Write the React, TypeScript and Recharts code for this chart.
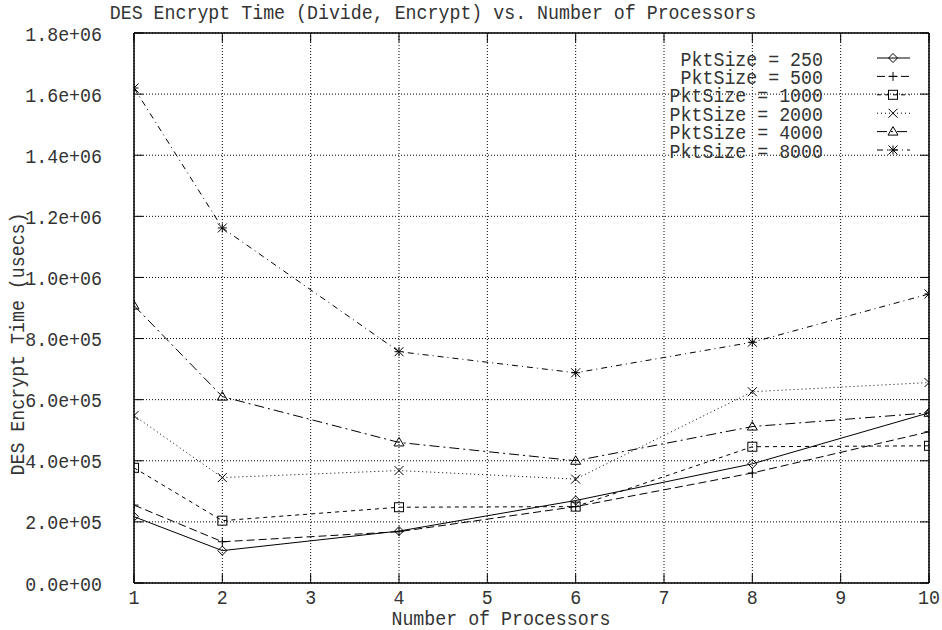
import React from 'react';
import { LineChart, Line, XAxis, YAxis, CartesianGrid, ReferenceLine, Customized } from 'recharts';

const processors = [1, 2, 4, 6, 8, 10];
const pkt250 = [217000, 106000, 170000, 270000, 390000, 557000];
const pkt500 = [255000, 135000, 168000, 250000, 360000, 495000];
const pkt1000 = [377000, 204000, 248000, 250000, 446000, 449000];
const pkt2000 = [548000, 345000, 368000, 340000, 626000, 656000];
const pkt4000 = [908000, 610000, 460000, 400000, 512000, 557000];
const pkt8000 = [1620000, 1162000, 757000, 688000, 788000, 946000];

const xTicks = [1, 2, 3, 4, 5, 6, 7, 8, 9, 10];
const yTicks = [0, 200000, 400000, 600000, 800000, 1000000, 1200000, 1400000, 1600000, 1800000];
const seriesNames = ['PktSize = 250', 'PktSize = 500', 'PktSize = 1000', 'PktSize = 2000', 'PktSize = 4000', 'PktSize = 8000'];
const titleText = 'DES Encrypt Time (Divide, Encrypt) vs. Number of Processors';
const xLabel = 'Number of Processors';
const yLabel = 'DES Encrypt Time (usecs)';

const data = processors.map((p, i) => ({
  p,
  s250: pkt250[i],
  s500: pkt500[i],
  s1000: pkt1000[i],
  s2000: pkt2000[i],
  s4000: pkt4000[i],
  s8000: pkt8000[i],
}));

const W = 942;
const H = 630;
const PLOT_LEFT = 134;
const PLOT_RIGHT = 929;
const PLOT_TOP = 33;
const PLOT_BOTTOM = 583;
const TICK = 9;
const FONT = '"Liberation Mono", "DejaVu Sans Mono", monospace';
const TEXT_COLOR = '#333';
const FS = 21;
const SX = 0.87;

const SText = ({ x, y, anchor, children, rotate, dy, fs }: { x: number; y: number; anchor: 'start' | 'middle' | 'end'; children: React.ReactNode; rotate?: number; dy?: string; fs?: number }) => (
  <text
    x={0}
    y={0}
    dy={dy}
    transform={`translate(${x}, ${y})${rotate ? ` rotate(${rotate})` : ''} scale(${SX}, 1)`}
    textAnchor={anchor}
    fontFamily={FONT}
    fontSize={fs ?? FS}
    fill={TEXT_COLOR}
  >
    {children}
  </text>
);

const fmt = (v: number) => {
  if (v === 0) return '0.0e+00';
  const e = Math.floor(Math.log10(v));
  const m = v / Math.pow(10, e);
  return `${m.toFixed(1)}e+${String(e).padStart(2, '0')}`;
};

type MarkerKind = 'diamond' | 'plus' | 'square' | 'cross' | 'triangle' | 'star';

const Marker = ({ cx, cy, kind }: { cx: number; cy: number; kind: MarkerKind }) => {
  const r = 4.5;
  const st = { stroke: '#000', strokeWidth: 1, fill: 'none' };
  switch (kind) {
    case 'diamond':
      return <polygon points={`${cx},${cy - r} ${cx + r},${cy} ${cx},${cy + r} ${cx - r},${cy}`} {...st} />;
    case 'plus':
      return (
        <g {...st}>
          <line x1={cx - r} y1={cy} x2={cx + r} y2={cy} />
          <line x1={cx} y1={cy - r} x2={cx} y2={cy + r} />
        </g>
      );
    case 'square':
      return <rect x={cx - r} y={cy - r} width={2 * r} height={2 * r} {...st} />;
    case 'cross':
      return (
        <g {...st}>
          <line x1={cx - r} y1={cy - r} x2={cx + r} y2={cy + r} />
          <line x1={cx - r} y1={cy + r} x2={cx + r} y2={cy - r} />
        </g>
      );
    case 'triangle':
      return <polygon points={`${cx},${cy - r - 0.5} ${cx + r + 0.5},${cy + r - 1} ${cx - r - 0.5},${cy + r - 1}`} {...st} />;
    case 'star':
      return (
        <g {...st}>
          <line x1={cx - r} y1={cy} x2={cx + r} y2={cy} />
          <line x1={cx} y1={cy - r} x2={cx} y2={cy + r} />
          <line x1={cx - r} y1={cy - r} x2={cx + r} y2={cy + r} />
          <line x1={cx - r} y1={cy + r} x2={cx + r} y2={cy - r} />
        </g>
      );
  }
  return null;
};

const seriesDefs: { key: string; kind: MarkerKind; dash?: string }[] = [
  { key: 's250', kind: 'diamond' },
  { key: 's500', kind: 'plus', dash: '8 4' },
  { key: 's1000', kind: 'square', dash: '4 4' },
  { key: 's2000', kind: 'cross', dash: '1 3' },
  { key: 's4000', kind: 'triangle', dash: '10 4 2 4' },
  { key: 's8000', kind: 'star', dash: '6 4 1 4' },
];

const YTick = (props: any) => {
  const { y, payload } = props;
  return (
    <g>
      <SText x={PLOT_LEFT - 32} y={y} dy="0.36em" anchor="end">
        {fmt(payload.value)}
      </SText>
      <line x1={PLOT_LEFT} x2={PLOT_LEFT + TICK} y1={y} y2={y} stroke="#000" strokeWidth={1} />
      <line x1={PLOT_RIGHT - TICK} x2={PLOT_RIGHT} y1={y} y2={y} stroke="#000" strokeWidth={1} />
    </g>
  );
};

const XTick = (props: any) => {
  const { x, payload } = props;
  return (
    <g>
      <SText x={x} y={PLOT_BOTTOM + 21} anchor="middle">
        {payload.value}
      </SText>
      <line x1={x} x2={x} y1={PLOT_BOTTOM - TICK} y2={PLOT_BOTTOM} stroke="#000" strokeWidth={1} />
      <line x1={x} x2={x} y1={PLOT_TOP} y2={PLOT_TOP + TICK} stroke="#000" strokeWidth={1} />
    </g>
  );
};

const Decorations = () => {
  const rowY0 = 58;
  const rowStep = 18.4;
  return (
    <g>
      <SText x={433} y={19} anchor="middle">
        {titleText}
      </SText>
      <SText x={501} y={625} anchor="middle">
        {xLabel}
      </SText>
      <SText x={24} y={344} anchor="middle" rotate={-90}>
        {yLabel}
      </SText>
      {seriesDefs.map((s, i) => {
        const y = rowY0 + i * rowStep;
        return (
          <g key={s.key}>
            <SText x={823} y={y} dy="0.36em" anchor="end">
              {seriesNames[i]}
            </SText>
            <line x1={877} x2={910} y1={y} y2={y} stroke="#000" strokeWidth={1} strokeDasharray={s.dash} />
            <Marker cx={893} cy={y} kind={s.kind} />
          </g>
        );
      })}
    </g>
  );
};

export default function App() {
  return (
    <div style={{ position: 'absolute', left: 0, top: 0, width: W, height: H, background: '#fff' }}>
      <LineChart
        width={W}
        height={H}
        data={data}
        margin={{ top: PLOT_TOP, right: W - PLOT_RIGHT, bottom: 0, left: 0 }}
      >
        <CartesianGrid stroke="#000" strokeDasharray="1 2" strokeWidth={1} />
        <XAxis
          dataKey="p"
          type="number"
          domain={[1, 10]}
          ticks={xTicks}
          height={H - PLOT_BOTTOM}
          axisLine={{ stroke: '#000', strokeWidth: 1.5 }}
          tickLine={false}
          tick={<XTick />}
          interval={0}
          allowDataOverflow
        />
        <YAxis
          type="number"
          domain={[0, 1800000]}
          ticks={yTicks}
          width={PLOT_LEFT}
          axisLine={{ stroke: '#000', strokeWidth: 1.5 }}
          tickLine={false}
          tick={<YTick />}
          interval={0}
          allowDataOverflow
        />
        <ReferenceLine y={1800000} stroke="#000" strokeWidth={1.5} />
        <ReferenceLine x={10} stroke="#000" strokeWidth={1.5} />
        {seriesDefs.map((s) => (
          <Line
            key={s.key}
            dataKey={s.key}
            type="linear"
            stroke="#000"
            strokeWidth={1}
            strokeDasharray={s.dash}
            isAnimationActive={false}
            dot={(p: any) => <Marker key={`${s.key}-${p.index}`} cx={p.cx} cy={p.cy} kind={s.kind} />}
            activeDot={false}
          />
        ))}
        <Customized component={Decorations} />
      </LineChart>
    </div>
  );
}
